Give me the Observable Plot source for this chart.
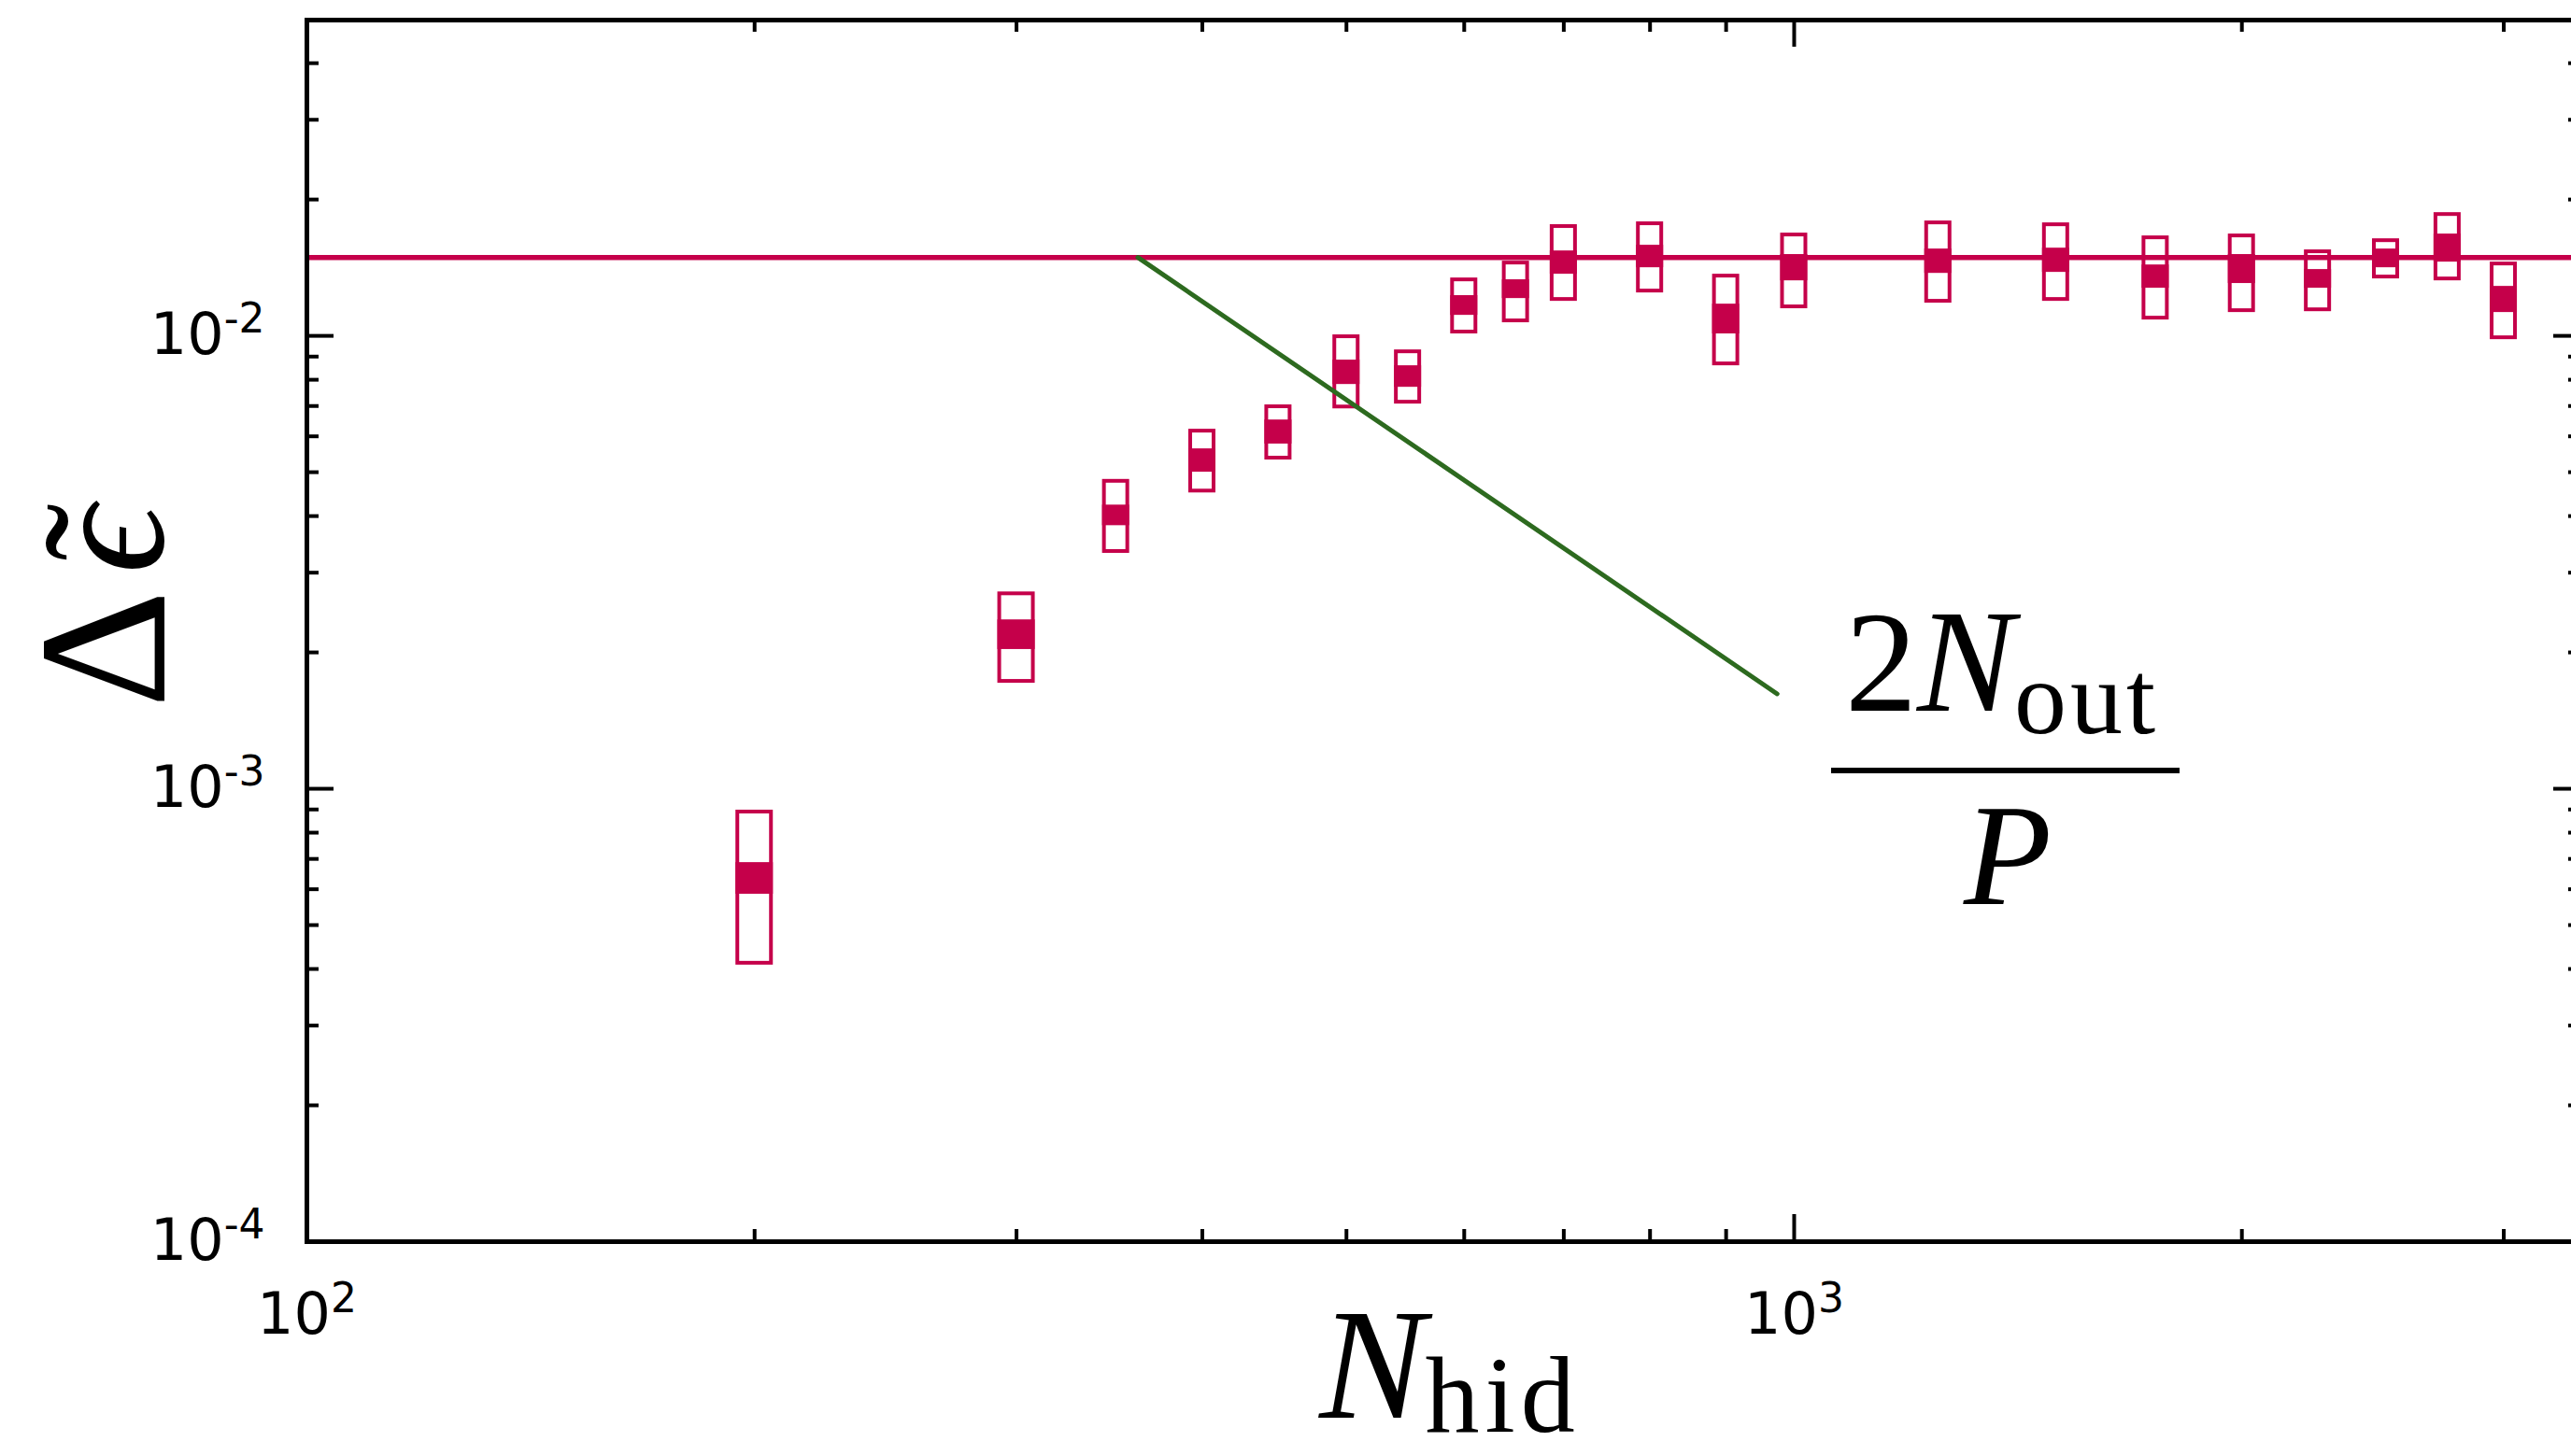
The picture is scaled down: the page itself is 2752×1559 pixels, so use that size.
<!DOCTYPE html>
<html><head><meta charset="utf-8">
<script src="https://cdn.jsdelivr.net/npm/d3@7"></script>
<script src="https://cdn.jsdelivr.net/npm/@observablehq/plot@0.6"></script>
<style>
html,body{margin:0;padding:0;background:#fff;overflow:hidden;}
#chart{position:relative;width:2752px;height:1559px;overflow:hidden;background:#fff;}
#chart svg{max-width:none !important;}
</style></head><body><div id="chart"></div>
<script>
// ---- data ----
const N        = [200, 300, 350, 400, 450, 500, 550, 600, 650, 700, 800, 900, 1000, 1250, 1500, 1750, 2000, 2250, 2500, 2750, 3000];
const outerHi  = [8.97e-4, 2.72e-3, 4.82e-3, 6.22e-3, 7.04e-3, 1.005e-2, 9.31e-3, 1.342e-2, 1.462e-2, 1.760e-2, 1.785e-2, 1.368e-2, 1.686e-2, 1.793e-2, 1.776e-2, 1.662e-2, 1.678e-2, 1.548e-2, 1.638e-2, 1.871e-2, 1.455e-2];
const outerLo  = [4.08e-4, 1.71e-3, 3.31e-3, 4.50e-3, 5.32e-3, 6.90e-3, 7.07e-3, 1.010e-2, 1.069e-2, 1.192e-2, 1.244e-2, 8.59e-3, 1.148e-2, 1.181e-2, 1.192e-2, 1.084e-2, 1.126e-2, 1.131e-2, 1.336e-2, 1.323e-2, 9.81e-3];
const bandHi   = [6.87e-4, 2.36e-3, 4.23e-3, 5.63e-3, 6.52e-3, 8.84e-3, 8.59e-3, 1.227e-2, 1.330e-2, 1.540e-2, 1.585e-2, 1.175e-2, 1.512e-2, 1.555e-2, 1.562e-2, 1.434e-2, 1.512e-2, 1.401e-2, 1.555e-2, 1.678e-2, 1.286e-2];
const bandLo   = [5.85e-4, 2.03e-3, 3.81e-3, 5.00e-3, 5.77e-3, 7.81e-3, 7.70e-3, 1.110e-2, 1.209e-2, 1.368e-2, 1.414e-2, 1.010e-2, 1.323e-2, 1.374e-2, 1.381e-2, 1.274e-2, 1.305e-2, 1.274e-2, 1.414e-2, 1.455e-2, 1.126e-2];
const plateau  = [0.0149];
const greenN   = [362, 974];
const greenVal = [0.0149, 0.00162];
const xMajor = [100, 1000];
const xMinor = [200, 300, 400, 500, 600, 700, 800, 900, 2000, 3000];
const yMajor = [1e-4, 1e-3, 1e-2];
const yMinor = [2e-4, 3e-4, 4e-4, 5e-4, 6e-4, 7e-4, 8e-4, 9e-4, 2e-3, 3e-3, 4e-3, 5e-3, 6e-3, 7e-3, 8e-3, 9e-3, 2e-2, 3e-2, 4e-2];

// ---- layout / style ----
const RED = "#c5004a", GREEN = "#2d6a1f";
const W = 2772, H = 1559, mL = 328, mR = 10, mT = 21, mB = 230;
const xDomain = [100, 3380], yDomain = [1e-4, 0.0498];
const frameW = W - mL - mR, frameH = H - mT - mB;
const decadePx = frameW / Math.log10(xDomain[1] / xDomain[0]);
const boxPx = n => (n <= 300 ? 40 : 29);
const boxes = N.map((n, i) => {
  const k = Math.pow(10, boxPx(n) / 2 / decadePx);
  return {x1: n / k, x2: n * k, lo: outerLo[i], hi: outerHi[i], blo: bandLo[i], bhi: bandHi[i]};
});
const green = greenN.map((n, i) => ({n, v: greenVal[i]}));
const fmt = d => "10^" + Math.round(Math.log10(d));
const tk = {stroke: "black", strokeWidth: 4};

const svg = Plot.plot({
  width: W, height: H, marginLeft: mL, marginRight: mR, marginTop: mT, marginBottom: mB,
  style: {fontFamily: "DejaVu Sans", background: "white", overflow: "visible", maxWidth: "none"},
  x: {type: "log", domain: xDomain},
  y: {type: "log", domain: yDomain},
  marks: [
    Plot.rect(boxes, {x1: "x1", x2: "x2", y1: "lo", y2: "hi", fill: "white", stroke: RED, strokeWidth: 4, inset: 2}),
    Plot.rect(boxes, {x1: "x1", x2: "x2", y1: "blo", y2: "bhi", fill: RED}),
    Plot.ruleY(plateau, {stroke: RED, strokeWidth: 5.5}),
    Plot.line(green, {x: "n", y: "v", stroke: GREEN, strokeWidth: 5}),
    // inward ticks on all four sides
    Plot.tickY(yMajor, {y: d => d, insetRight: frameW - 29, ...tk}),
    Plot.tickY(yMinor, {y: d => d, insetRight: frameW - 13, ...tk}),
    Plot.tickY(yMajor, {y: d => d, insetLeft: frameW - 29, ...tk}),
    Plot.tickY(yMinor, {y: d => d, insetLeft: frameW - 13, ...tk}),
    Plot.tickX(xMajor, {x: d => d, insetTop: frameH - 29, ...tk}),
    Plot.tickX(xMinor, {x: d => d, insetTop: frameH - 13, ...tk}),
    Plot.tickX(xMajor, {x: d => d, insetBottom: frameH - 29, ...tk}),
    Plot.tickX(xMinor, {x: d => d, insetBottom: frameH - 13, ...tk}),
    Plot.frame({stroke: "black", strokeWidth: 5}),
    Plot.axisX({ticks: xMajor, tickSize: 0, tickPadding: 54, fontSize: 62, tickFormat: fmt, label: null}),
    Plot.axisY({ticks: yMajor, tickSize: 0, tickPadding: 45, fontSize: 62, tickFormat: fmt, label: null})
  ]
});
svg.style.maxWidth = "none";
svg.setAttribute("width", W);
svg.setAttribute("height", H);

// superscript exponents on tick labels
d3.select(svg).selectAll('g[aria-label="x-axis tick label"] text, g[aria-label="y-axis tick label"] text').each(function () {
  const [base, exp] = this.textContent.split("^");
  this.textContent = "";
  const s = d3.select(this);
  s.append("tspan").text(base);
  s.append("tspan").attr("dy", -23).attr("font-size", 44).text(exp);
});

// annotations: axis titles and formula
const g = d3.select(svg).append("g").attr("font-family", "'Liberation Serif', 'DejaVu Serif', serif").attr("fill", "black");
const xl = g.append("text").attr("x", 1552).attr("y", 1518).attr("text-anchor", "middle");
xl.append("tspan").attr("font-style", "italic").attr("font-size", 170).text("N");
xl.append("tspan").attr("font-size", 116).attr("dy", 15).attr("letter-spacing", 6).text("hid");

g.append("text").attr("transform", "translate(176,695) rotate(-90)").attr("text-anchor", "middle").attr("font-size", 196).text("Δ");
g.append("text").attr("transform", "translate(174,578) rotate(-90)").attr("text-anchor", "middle").attr("font-size", 180).attr("font-style", "italic").text("ϵ");
g.append("text").attr("transform", "translate(174,570) rotate(-90)").attr("text-anchor", "middle").attr("font-size", 185).text("˜");

const num = g.append("text").attr("x", 2143).attr("y", 761).attr("text-anchor", "middle");
num.append("tspan").attr("font-size", 154).text("2");
num.append("tspan").attr("font-size", 156).attr("font-style", "italic").text("N");
num.append("tspan").attr("font-size", 112).attr("dy", 24).attr("letter-spacing", 4).text("out");
g.append("line").attr("x1", 1960).attr("x2", 2333).attr("y1", 825).attr("y2", 825).attr("stroke", "black").attr("stroke-width", 6);
g.append("text").attr("x", 2149).attr("y", 968).attr("text-anchor", "middle").attr("font-size", 154).attr("font-style", "italic").text("P");

document.getElementById("chart").appendChild(svg);
</script></body></html>
